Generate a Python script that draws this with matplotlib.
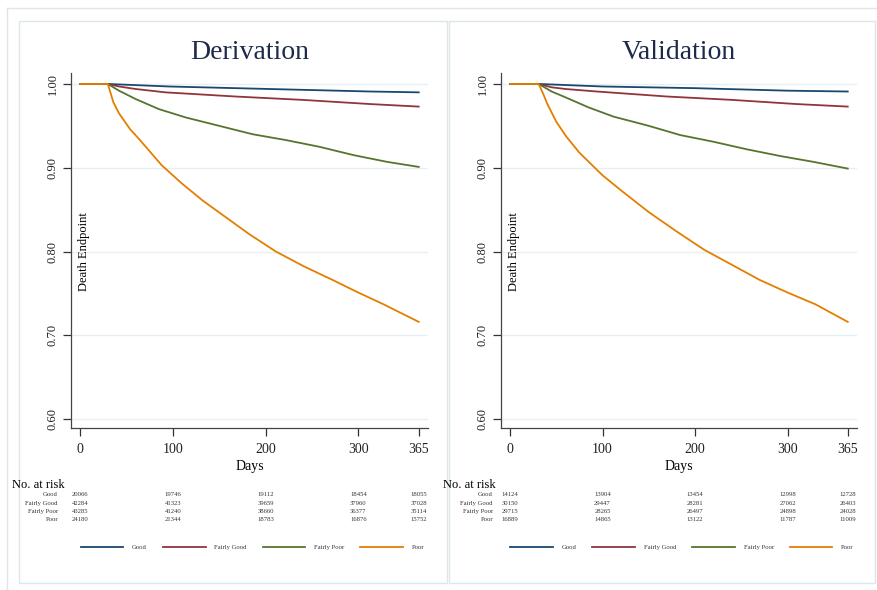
import matplotlib
matplotlib.use('Agg')
import matplotlib.pyplot as plt
import matplotlib.transforms as mtransforms
from matplotlib.lines import Line2D

plt.rcParams['font.family'] = ['Liberation Serif', 'DejaVu Serif']

# ---------- data ----------
groups = ['Good', 'Fairly Good', 'Fairly Poor', 'Poor']
colors = ['#1a476f', '#90353b', '#55752f', '#e37e00']
risk_days = [0, 100, 200, 300, 365]
x_ticks = [0, 100, 200, 300, 365]
y_ticks = [0.60, 0.70, 0.80, 0.90, 1.00]

# Derivation cohort
der_good_days = [0, 30, 96, 204, 313, 365]
der_good = [1.0, 1.0, 0.997, 0.994, 0.991, 0.990]
der_fgood_days = [0, 30, 42, 60, 92, 168, 240, 313, 365]
der_fgood = [1.0, 1.0, 0.997, 0.994, 0.990, 0.985, 0.981, 0.976, 0.973]
der_fpoor_days = [0, 30, 42, 60, 85, 114, 150, 186, 222, 258, 295, 331, 365]
der_fpoor = [1.0, 1.0, 0.992, 0.982, 0.970, 0.960, 0.950, 0.940, 0.933, 0.925, 0.915, 0.907, 0.901]
der_poor_days = [0, 30, 36, 42, 54, 63, 74, 88, 96, 110, 132, 157, 182, 211, 240, 276, 298, 327, 365]
der_poor = [1.0, 1.0, 0.978, 0.965, 0.946, 0.935, 0.921, 0.903, 0.895, 0.881, 0.861, 0.841,
            0.821, 0.800, 0.783, 0.764, 0.752, 0.737, 0.716]

# Validation cohort
val_good_days = [0, 31, 100, 200, 300, 365]
val_good = [1.0, 1.0, 0.997, 0.995, 0.992, 0.991]
val_fgood_days = [0, 31, 45, 60, 94, 170, 240, 310, 365]
val_fgood = [1.0, 1.0, 0.996, 0.994, 0.991, 0.985, 0.981, 0.976, 0.973]
val_fpoor_days = [0, 31, 45, 58, 85, 112, 150, 184, 220, 256, 292, 328, 365]
val_fpoor = [1.0, 1.0, 0.991, 0.985, 0.972, 0.961, 0.950, 0.939, 0.931, 0.922, 0.914, 0.907, 0.899]
val_poor_days = [0, 31, 36, 40, 50, 61, 75, 87, 100, 120, 150, 180, 210, 240, 270, 300, 330, 365]
val_poor = [1.0, 1.0, 0.988, 0.977, 0.955, 0.937, 0.918, 0.905, 0.891, 0.873, 0.847, 0.824,
            0.802, 0.784, 0.766, 0.751, 0.737, 0.716]

# numbers at risk
der_risk_good = [20066, 19746, 19112, 18454, 18055]
der_risk_fgood = [42284, 41323, 39659, 37960, 37028]
der_risk_fpoor = [43285, 41240, 38660, 36377, 35114]
der_risk_poor = [24180, 21344, 18783, 16876, 15752]
val_risk_good = [14124, 13904, 13454, 12998, 12728]
val_risk_fgood = [30150, 29447, 28281, 27062, 26403]
val_risk_fpoor = [29715, 28265, 26497, 24898, 24028]
val_risk_poor = [16889, 14865, 13122, 11787, 11009]

W, H = 877, 590
fig = plt.figure(figsize=(W / 100, H / 100), dpi=100)
fig.patch.set_facecolor('white')

frame_col = '#dce7ea'
# outer frame and the two panel boxes
fig.add_artist(Line2D([7 / W, 7 / W], [0, 1 - 8 / H], color=frame_col, lw=1, transform=fig.transFigure))
fig.add_artist(Line2D([7 / W, 1], [1 - 8 / H, 1 - 8 / H], color=frame_col, lw=1, transform=fig.transFigure))
for x0, x1 in [(19, 447), (449, 875)]:
    fig.add_artist(plt.Rectangle((x0 / W, 1 - 583 / H), (x1 - x0) / W, (583 - 21) / H,
                                 fill=False, ec=frame_col, lw=1, transform=fig.transFigure))


def px_axes(x0, y0, x1, y1):
    return fig.add_axes([x0 / W, 1 - y1 / H, (x1 - x0) / W, (y1 - y0) / H])


def draw_panel(ax, title, curves, risk, lab_x, lead_x):
    for (d, v), c in zip(curves, colors):
        ax.plot(d, v, color=c, lw=1.3)
    ax.set_xlim(-9.7, 375)
    ax.set_ylim(0.5893, 1.0131)
    ax.set_xticks(x_ticks)
    ax.set_yticks(y_ticks)
    ax.set_xticklabels([str(t) for t in x_ticks], fontsize=10)
    ax.set_yticklabels(['%.2f' % t for t in y_ticks], fontsize=9, rotation=90, va='center')
    ax.tick_params(axis='both', direction='out', length=6, width=0.9, colors='#333333')
    ax.tick_params(axis='x', pad=5, labelcolor='#222222')
    ax.tick_params(axis='y', pad=3, labelcolor='#222222')
    for s in ['top', 'right']:
        ax.spines[s].set_visible(False)
    for s in ['left', 'bottom']:
        ax.spines[s].set_color('#444444')
        ax.spines[s].set_linewidth(0.9)
    ax.grid(axis='y', color='#e6eff1', lw=1)
    ax.set_axisbelow(True)
    ax.set_title(title, fontsize=20, color='#1e2a4a', pad=10)
    ax.set_xlabel('Days', fontsize=10, labelpad=3)
    ax.text(0.037, 0.497, 'Death Endpoint', transform=ax.transAxes, rotation=90,
            ha='center', va='center', fontsize=9)

    # number at risk table
    tr = mtransforms.blended_transform_factory(ax.transData, fig.transFigure)
    fig.text(lead_x / W, 1 - 485 / H, 'No. at risk', fontsize=9, ha='left', va='center')
    for row, (g, vals) in enumerate(zip(groups, risk)):
        yy = 1 - (495 + row * 8.3) / H
        fig.text(lab_x / W, yy, g, fontsize=4.8, ha='right', va='center', color='#333333')
        for d, n in zip(risk_days, vals):
            ax.text(d, yy, str(n), transform=tr, fontsize=4.8, ha='center', va='center',
                    color='#333333')

    handles = [Line2D([], [], color=c, lw=1.3) for c in colors]
    cx = (ax.get_position().x0 + ax.get_position().x1) / 2
    leg = ax.legend(handles, groups, ncol=4, loc='center', bbox_to_anchor=(cx + 3 / W, 1 - 547 / H),
                    bbox_transform=fig.transFigure, frameon=False, fontsize=4.8,
                    handlelength=6.4, handletextpad=1.3, columnspacing=2.4)
    for t in leg.get_texts():
        t.set_color('#333333')


ax1 = px_axes(71, 73, 428, 428)
draw_panel(ax1, 'Derivation',
           [(der_good_days, der_good), (der_fgood_days, der_fgood),
            (der_fpoor_days, der_fpoor), (der_poor_days, der_poor)],
           [der_risk_good, der_risk_fgood, der_risk_fpoor, der_risk_poor], 58, 12)

ax2 = px_axes(501, 73, 857, 428)
draw_panel(ax2, 'Validation',
           [(val_good_days, val_good), (val_fgood_days, val_fgood),
            (val_fpoor_days, val_fpoor), (val_poor_days, val_poor)],
           [val_risk_good, val_risk_fgood, val_risk_fpoor, val_risk_poor], 493, 443)

fig.savefig('out.png', dpi=100)
